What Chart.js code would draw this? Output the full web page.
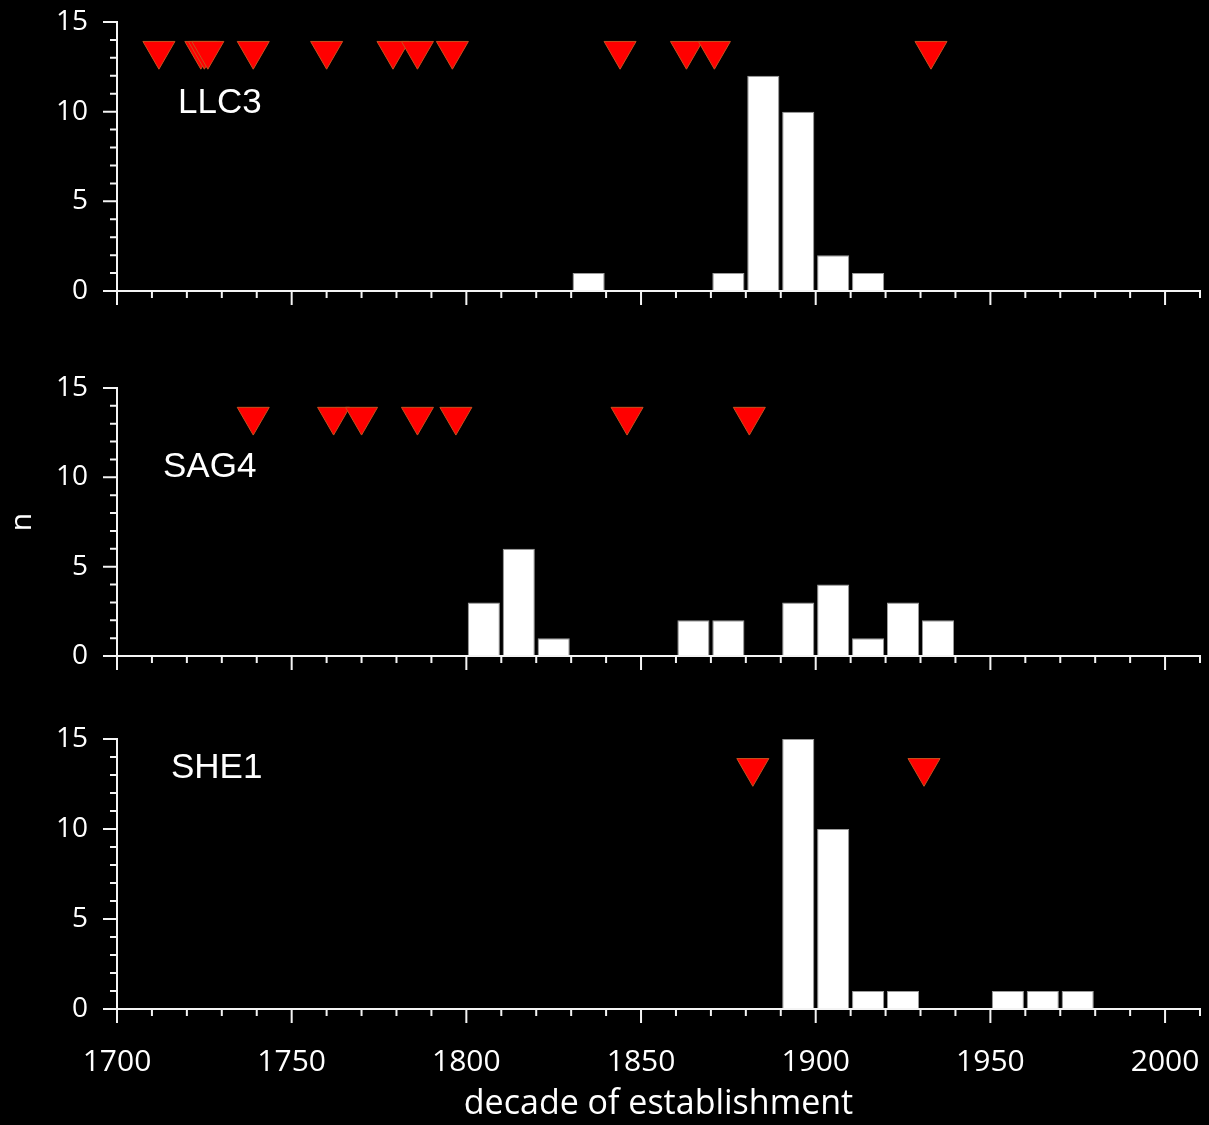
<!DOCTYPE html>
<html>
<head>
<meta charset="utf-8">
<script src="https://cdn.jsdelivr.net/npm/chart.js@4"></script>
<style>
  body { margin: 0; background: #000; }
  #wrap { position: relative; width: 1209px; height: 1125px; background: #000; overflow: hidden; }
  #wrap canvas { position: absolute; left: 0; }
</style>
</head>
<body>
<div id="wrap">
  <canvas id="llc3" width="1209" height="320" style="top:0px"></canvas>
  <canvas id="sag4" width="1209" height="320" style="top:366px"></canvas>
  <canvas id="she1" width="1209" height="408" style="top:717px"></canvas>
</div>
<script>
// axis range and labelled ticks
const xMin = 1700, xMax = 2010;
const decadeTicks = [1700, 1750, 1800, 1850, 1900, 1950, 2000];
const countTicks = [0, 5, 10, 15];

// LLC3: trees per decade of establishment + dated events
const llc3Decades = [1830, 1870, 1880, 1890, 1900, 1910];
const llc3Counts  = [1, 1, 12, 10, 2, 1];
const llc3Events  = [1712, 1724, 1725, 1726, 1739, 1760, 1779, 1786, 1796, 1844, 1863, 1871, 1933];

// SAG4
const sag4Decades = [1800, 1810, 1820, 1860, 1870, 1890, 1900, 1910, 1920, 1930];
const sag4Counts  = [3, 6, 1, 2, 2, 3, 4, 1, 3, 2];
const sag4Events  = [1739, 1762, 1770, 1786, 1797, 1846, 1881];

// SHE1
const she1Decades = [1890, 1900, 1910, 1920, 1950, 1960, 1970];
const she1Counts  = [15, 10, 1, 1, 1, 1, 1];
const she1Events  = [1882, 1931];

const eventLevel = 13.4;

const axisColor = '#f4f4f4';
const tickFont = '"Open Sans", "DejaVu Sans", sans-serif';

Chart.defaults.color = '#ffffff';
Chart.defaults.font.family = tickFont;

// little ticks every 10 yr / every 1 count, long ones every 50 yr / 5 counts
const tickMarks = {
  id: 'tickMarks',
  afterDatasetsDraw(chart) {
    const ctx = chart.ctx;
    const xs = chart.scales.x, ys = chart.scales.y;
    const bottom = ys.getPixelForValue(0), top = ys.getPixelForValue(15);
    const left = xs.getPixelForValue(xMin), right = xs.getPixelForValue(xMax);
    ctx.save();
    ctx.strokeStyle = axisColor;
    ctx.lineWidth = 2;
    ctx.lineCap = 'butt';
    ctx.beginPath();
    for (let v = xMin; v <= xMax; v += 10) {
      const px = xs.getPixelForValue(v);
      const len = v % 50 === 0 ? 14 : 7;
      ctx.moveTo(px, bottom);
      ctx.lineTo(px, bottom + len);
    }
    for (let v = 0; v <= 15; v++) {
      const py = ys.getPixelForValue(v);
      const len = v % 5 === 0 ? 14 : 7;
      ctx.moveTo(left, py);
      ctx.lineTo(left - len, py);
    }
    ctx.moveTo(left - 1, bottom);
    ctx.lineTo(right + 1, bottom);
    ctx.moveTo(left, top - 1);
    ctx.lineTo(left, bottom);
    ctx.stroke();
    ctx.restore();
  }
};

// site name written inside each panel
const panelLabel = {
  id: 'panelLabel',
  afterDraw(chart, args, opts) {
    if (!opts.text) return;
    const ctx = chart.ctx, area = chart.chartArea;
    ctx.save();
    ctx.font = '35px "Liberation Sans", Arial, sans-serif';
    ctx.fillStyle = '#ffffff';
    ctx.textBaseline = 'alphabetic';
    ctx.fillText(opts.text, area.left + opts.dx, area.top + opts.dy);
    ctx.restore();
  }
};

// keep the plot box fixed: no extra room for overhanging tick labels
function noPad(s) {
  s.paddingTop = 0;
  s.paddingBottom = 0;
  s.paddingLeft = 0;
  s.paddingRight = 0;
}

function makePanel(id, name, decades, counts, events, o) {
  const bars = decades.map((d, i) => ({ x: d + 5, y: counts[i] }));
  const marks = events.map(yr => ({ x: yr, y: eventLevel }));
  return new Chart(document.getElementById(id), {
    type: 'bar',
    data: {
      datasets: [
        {
          type: 'scatter',
          data: marks,
          pointStyle: 'triangle',
          rotation: 180,
          pointRadius: 18.5,
          pointHoverRadius: 18.5,
          backgroundColor: '#ff0000',
          borderColor: '#c8501e',
          borderWidth: 1,
          clip: false,
          order: 0
        },
        {
          type: 'bar',
          data: bars,
          backgroundColor: '#ffffff',
          borderColor: '#9c9c9c',
          borderWidth: 1,
          borderSkipped: 'bottom',
          categoryPercentage: 1,
          barPercentage: 0.92,
          order: 1
        }
      ]
    },
    options: {
      responsive: false,
      animation: false,
      devicePixelRatio: 1,
      layout: { autoPadding: false, padding: { top: 22, right: 9, left: 0, bottom: 0 } },
      plugins: {
        legend: { display: false },
        tooltip: { enabled: false },
        panelLabel: { text: name, dx: o.dx, dy: o.dy }
      },
      scales: {
        x: {
          type: 'linear',
          min: xMin,
          max: xMax,
          offset: false,
          grid: { display: false, drawTicks: false },
          border: { display: false },
          afterFit: s => { s.height = o.axisH; noPad(s); },
          afterBuildTicks: s => { s.ticks = decadeTicks.map(v => ({ value: v })); },
          ticks: {
            display: o.showX,
            autoSkip: false,
            maxRotation: 0,
            padding: 35,
            color: '#ffffff',
            font: { size: 30 },
            callback: v => String(v)
          },
          title: {
            display: o.showX,
            text: 'decade of establishment',
            color: '#ffffff',
            font: { size: 34 },
            padding: { top: 0, bottom: 0 }
          }
        },
        y: {
          min: 0,
          max: 15,
          grid: { display: false, drawTicks: false },
          border: { display: false },
          afterFit: s => { s.width = 117; noPad(s); },
          afterBuildTicks: s => { s.ticks = countTicks.map(v => ({ value: v })); },
          ticks: {
            padding: 29,
            color: '#ffffff',
            font: { size: 28 }
          },
          title: {
            display: o.showY,
            text: 'n',
            color: '#ffffff',
            font: { size: 30 },
            padding: { top: 4, bottom: 0 }
          }
        }
      }
    },
    plugins: [tickMarks, panelLabel]
  });
}

makePanel('llc3', 'LLC3', llc3Decades, llc3Counts, llc3Events,
  { axisH: 29, showX: false, showY: false, dx: 61, dy: 91 });
makePanel('sag4', 'SAG4', sag4Decades, sag4Counts, sag4Events,
  { axisH: 30, showX: false, showY: true, dx: 46, dy: 89 });
makePanel('she1', 'SHE1', she1Decades, she1Counts, she1Events,
  { axisH: 116, showX: true, showY: false, dx: 54, dy: 39 });
</script>
</body>
</html>
